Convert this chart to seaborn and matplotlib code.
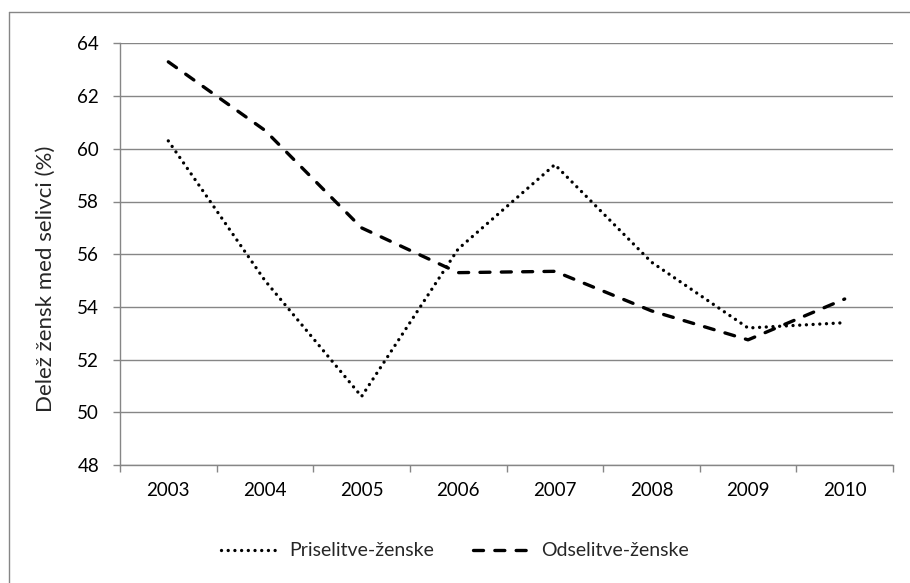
import matplotlib
matplotlib.use("Agg")
import matplotlib.pyplot as plt
import seaborn as sns
import pandas as pd
from matplotlib.lines import Line2D

years = ["2003", "2004", "2005", "2006", "2007", "2008", "2009", "2010"]
priselitve = [60.3, 55.0, 50.6, 56.2, 59.4, 55.7, 53.2, 53.4]
odselitve = [63.3, 60.7, 57.0, 55.3, 55.35, 53.85, 52.75, 54.3]
series_names = ["Priselitve-ženske", "Odselitve-ženske"]
y_ticks = [48, 50, 52, 54, 56, 58, 60, 62, 64]
y_label = "Delež žensk med selivci (%)"

sns.set_style("white")
plt.rcParams["font.family"] = ["Lato", "DejaVu Sans"]

df = pd.DataFrame({
    "leto": years * 2,
    "vrednost": priselitve + odselitve,
    "serija": [series_names[0]] * len(years) + [series_names[1]] * len(years),
})

fig = plt.figure(figsize=(9.10, 5.83), dpi=100)
ax = fig.add_axes([120 / 910, 1 - 465 / 583, (893 - 120) / 910, (465 - 43.4) / 583])

grey = "#868686"
styles = {series_names[0]: (0.01, 2.0), series_names[1]: (3.0, 3.4)}
for name in series_names:
    sub = df[df["serija"] == name]
    sns.lineplot(data=sub, x="leto", y="vrednost", ax=ax, color="black",
                 linewidth=2.4, dashes=False, label=name, legend=False,
                 sort=False)
    line = ax.lines[-1]
    line.set_dashes(styles[name])
    line.set_dash_capstyle("round")
    line.set_zorder(3)

ax.set_xlim(-0.5, len(years) - 0.5)
ax.set_ylim(48, 64)
ax.set_yticks(y_ticks)
ax.set_xticks(range(len(years)))
ax.set_xticklabels(years)
ax.set_xticks([i - 0.5 for i in range(len(years) + 1)], minor=True)
ax.grid(axis="y", color=grey, linewidth=1.0)
ax.grid(axis="x", visible=False)
for s in ["top", "right"]:
    ax.spines[s].set_visible(False)
for s in ["left", "bottom"]:
    ax.spines[s].set_color(grey)
    ax.spines[s].set_linewidth(1.0)
ax.tick_params(axis="y", which="major", left=True, length=5, width=1.0,
               color=grey, pad=10, labelsize=13.5, labelcolor="black")
ax.tick_params(axis="x", which="major", bottom=False, length=0, pad=12,
               labelsize=13.5, labelcolor="black")
ax.tick_params(axis="x", which="minor", bottom=True, length=5, width=1.0,
               color=grey)
ax.set_xlabel("")
ax.set_ylabel(y_label, fontsize=16)
ax.yaxis.set_label_coords(-0.083, (465 - 279) / (465 - 43.4))

handles, labels = ax.get_legend_handles_labels()
fig.legend(handles, labels, loc="center", bbox_to_anchor=(0.5, 1 - 551 / 583),
           ncol=2, frameon=False, fontsize=14, handlelength=2.85,
           handletextpad=0.65, columnspacing=2.0)

# outer chart frame (only left and top edges fall inside the image)
fig.add_artist(Line2D([9 / 910, 9 / 910], [0, 1 - 12 / 583],
                      transform=fig.transFigure, color=grey, linewidth=1.0))
fig.add_artist(Line2D([9 / 910, 1], [1 - 12 / 583, 1 - 12 / 583],
                      transform=fig.transFigure, color=grey, linewidth=1.0))

fig.savefig("out.png", dpi=100)
